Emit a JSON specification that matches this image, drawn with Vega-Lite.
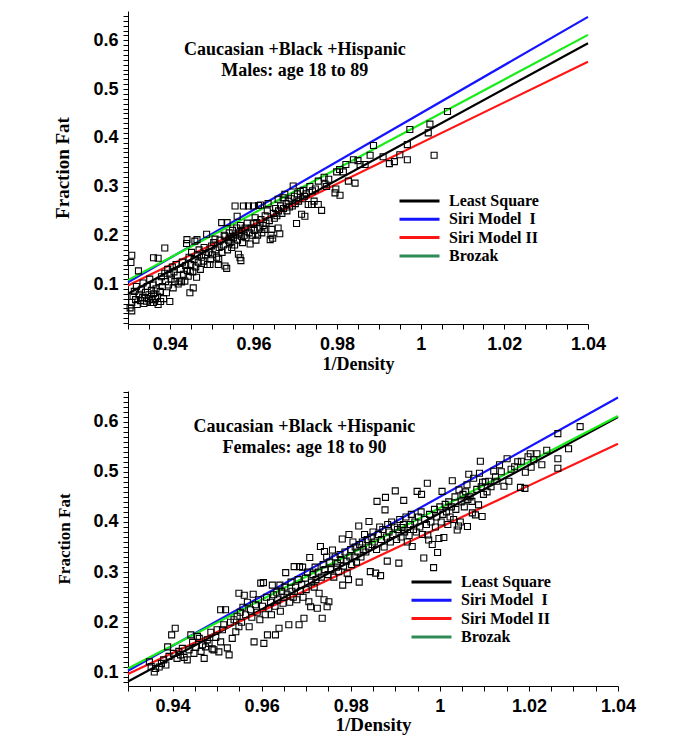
{
"$schema": "https://vega.github.io/schema/vega-lite/v6.json",
"padding": {"left": 53, "top": 6, "right": 5, "bottom": 5},
"spacing": 9,
"config": {"view": {"stroke": null},
  "axis": {"grid": false, "domainColor": "black", "tickColor": "black", "labelColor": "black", "titleColor": "black", "labelFont": "Liberation Sans", "labelFontWeight": "bold", "labelFontSize": 18, "titleFont": "Liberation Serif", "titleFontWeight": "bold", "labelOverlap": false, "labelFlush": false, "labelBound": false, "tickSize": 5, "tickCount": 500}},
"resolve": {"scale": {"color": "independent"}, "legend": {"color": "independent"}},
"datasets": {
"lines": [
{"g":"M","m":"Least Square","d":0.93,"f":0.080},{"g":"M","m":"Least Square","d":1.04,"f":0.594},
{"g":"M","m":"Siri Model \u00a0I","d":0.93,"f":0.1035},{"g":"M","m":"Siri Model \u00a0I","d":1.04,"f":0.648},
{"g":"M","m":"Siri Model II","d":0.93,"f":0.097},{"g":"M","m":"Siri Model II","d":1.04,"f":0.556},
{"g":"M","m":"Brozak","d":0.93,"f":0.108},{"g":"M","m":"Brozak","d":1.04,"f":0.611},
{"g":"F","m":"Least Square","d":0.93,"f":0.082},{"g":"F","m":"Least Square","d":1.04,"f":0.609},
{"g":"F","m":"Siri Model \u00a0I","d":0.93,"f":0.1035},{"g":"F","m":"Siri Model \u00a0I","d":1.04,"f":0.648},
{"g":"F","m":"Siri Model II","d":0.93,"f":0.097},{"g":"F","m":"Siri Model II","d":1.04,"f":0.556},
{"g":"F","m":"Brozak","d":0.93,"f":0.108},{"g":"F","m":"Brozak","d":1.04,"f":0.611}
],
"pts": [
{"g":"M","d":0.9305,"f":0.051},{"g":"M","d":0.9309,"f":0.045},{"g":"M","d":0.9309,"f":0.062},{"g":"M","d":0.9307,"f":0.144},{"g":"M","d":0.9309,"f":0.159},
{"g":"M","d":0.9312,"f":0.075},{"g":"M","d":0.9315,"f":0.085},{"g":"M","d":0.9318,"f":0.068},{"g":"M","d":0.932,"f":0.095},{"g":"M","d":0.9322,"f":0.058},
{"g":"M","d":0.9325,"f":0.127},{"g":"M","d":0.9327,"f":0.079},{"g":"M","d":0.933,"f":0.066},{"g":"M","d":0.9332,"f":0.088},{"g":"M","d":0.9335,"f":0.072},
{"g":"M","d":0.9336,"f":0.102},{"g":"M","d":0.9338,"f":0.06},{"g":"M","d":0.934,"f":0.072},{"g":"M","d":0.9342,"f":0.083},{"g":"M","d":0.9344,"f":0.065},
{"g":"M","d":0.9346,"f":0.095},{"g":"M","d":0.9348,"f":0.07},{"g":"M","d":0.935,"f":0.078},{"g":"M","d":0.9352,"f":0.11},{"g":"M","d":0.9354,"f":0.062},
{"g":"M","d":0.9356,"f":0.087},{"g":"M","d":0.9358,"f":0.068},{"g":"M","d":0.936,"f":0.098},{"g":"M","d":0.9361,"f":0.062},{"g":"M","d":0.9361,"f":0.08},
{"g":"M","d":0.9361,"f":0.154},{"g":"M","d":0.9366,"f":0.07},{"g":"M","d":0.9367,"f":0.09},{"g":"M","d":0.937,"f":0.075},{"g":"M","d":0.9372,"f":0.153},
{"g":"M","d":0.9372,"f":0.058},{"g":"M","d":0.9374,"f":0.105},{"g":"M","d":0.9378,"f":0.064},{"g":"M","d":0.9377,"f":0.085},{"g":"M","d":0.938,"f":0.115},
{"g":"M","d":0.9382,"f":0.095},{"g":"M","d":0.9385,"f":0.07},{"g":"M","d":0.9388,"f":0.174},{"g":"M","d":0.9388,"f":0.122},{"g":"M","d":0.939,"f":0.105},
{"g":"M","d":0.9392,"f":0.082},{"g":"M","d":0.9395,"f":0.13},{"g":"M","d":0.9397,"f":0.098},{"g":"M","d":0.94,"f":0.064},{"g":"M","d":0.94,"f":0.12},
{"g":"M","d":0.9403,"f":0.11},{"g":"M","d":0.9406,"f":0.135},{"g":"M","d":0.9408,"f":0.092},{"g":"M","d":0.941,"f":0.125},{"g":"M","d":0.9412,"f":0.105},
{"g":"M","d":0.9415,"f":0.14},{"g":"M","d":0.9418,"f":0.118},{"g":"M","d":0.942,"f":0.1},{"g":"M","d":0.9424,"f":0.106},{"g":"M","d":0.9425,"f":0.13},
{"g":"M","d":0.9428,"f":0.104},{"g":"M","d":0.943,"f":0.145},{"g":"M","d":0.9433,"f":0.12},{"g":"M","d":0.9436,"f":0.106},{"g":"M","d":0.9438,"f":0.138},
{"g":"M","d":0.944,"f":0.183},{"g":"M","d":0.9441,"f":0.191},{"g":"M","d":0.9442,"f":0.128},{"g":"M","d":0.9444,"f":0.116},{"g":"M","d":0.9446,"f":0.155},
{"g":"M","d":0.9449,"f":0.126},{"g":"M","d":0.9448,"f":0.082},{"g":"M","d":0.945,"f":0.14},{"g":"M","d":0.9452,"f":0.165},{"g":"M","d":0.9455,"f":0.125},
{"g":"M","d":0.9456,"f":0.092},{"g":"M","d":0.9458,"f":0.15},{"g":"M","d":0.946,"f":0.188},{"g":"M","d":0.9462,"f":0.135},{"g":"M","d":0.9464,"f":0.114},
{"g":"M","d":0.9465,"f":0.191},{"g":"M","d":0.9466,"f":0.16},{"g":"M","d":0.9468,"f":0.145},{"g":"M","d":0.947,"f":0.17},{"g":"M","d":0.9473,"f":0.13},
{"g":"M","d":0.9476,"f":0.155},{"g":"M","d":0.948,"f":0.147},{"g":"M","d":0.9482,"f":0.175},{"g":"M","d":0.9485,"f":0.16},{"g":"M","d":0.9488,"f":0.202},
{"g":"M","d":0.949,"f":0.14},{"g":"M","d":0.9493,"f":0.165},{"g":"M","d":0.9496,"f":0.14},{"g":"M","d":0.9498,"f":0.151},{"g":"M","d":0.95,"f":0.178},
{"g":"M","d":0.9502,"f":0.16},{"g":"M","d":0.9505,"f":0.185},{"g":"M","d":0.9508,"f":0.192},{"g":"M","d":0.951,"f":0.17},{"g":"M","d":0.9512,"f":0.155},
{"g":"M","d":0.9516,"f":0.14},{"g":"M","d":0.9517,"f":0.151},{"g":"M","d":0.9518,"f":0.175},{"g":"M","d":0.952,"f":0.19},{"g":"M","d":0.9524,"f":0.226},
{"g":"M","d":0.9525,"f":0.165},{"g":"M","d":0.9528,"f":0.18},{"g":"M","d":0.953,"f":0.2},{"g":"M","d":0.9532,"f":0.198},{"g":"M","d":0.9532,"f":0.137},
{"g":"M","d":0.9536,"f":0.132},{"g":"M","d":0.9537,"f":0.226},{"g":"M","d":0.9538,"f":0.17},{"g":"M","d":0.954,"f":0.19},{"g":"M","d":0.9542,"f":0.205},
{"g":"M","d":0.9544,"f":0.185},{"g":"M","d":0.9546,"f":0.195},{"g":"M","d":0.9548,"f":0.175},{"g":"M","d":0.955,"f":0.21},{"g":"M","d":0.9552,"f":0.195},
{"g":"M","d":0.9555,"f":0.18},{"g":"M","d":0.9556,"f":0.26},{"g":"M","d":0.9558,"f":0.2},{"g":"M","d":0.956,"f":0.215},{"g":"M","d":0.9561,"f":0.239},
{"g":"M","d":0.9562,"f":0.19},{"g":"M","d":0.9564,"f":0.161},{"g":"M","d":0.9566,"f":0.205},{"g":"M","d":0.9568,"f":0.154},{"g":"M","d":0.9569,"f":0.22},
{"g":"M","d":0.957,"f":0.148},{"g":"M","d":0.9571,"f":0.198},{"g":"M","d":0.9572,"f":0.21},{"g":"M","d":0.9574,"f":0.185},{"g":"M","d":0.9576,"f":0.26},
{"g":"M","d":0.9578,"f":0.2},{"g":"M","d":0.958,"f":0.215},{"g":"M","d":0.9585,"f":0.225},{"g":"M","d":0.9588,"f":0.26},{"g":"M","d":0.9582,"f":0.195},
{"g":"M","d":0.959,"f":0.205},{"g":"M","d":0.9592,"f":0.182},{"g":"M","d":0.9595,"f":0.215},{"g":"M","d":0.9598,"f":0.2},{"g":"M","d":0.96,"f":0.26},
{"g":"M","d":0.9601,"f":0.225},{"g":"M","d":0.9602,"f":0.21},{"g":"M","d":0.9604,"f":0.236},{"g":"M","d":0.9606,"f":0.19},{"g":"M","d":0.9608,"f":0.226},
{"g":"M","d":0.961,"f":0.2},{"g":"M","d":0.9612,"f":0.261},{"g":"M","d":0.9615,"f":0.215},{"g":"M","d":0.9617,"f":0.262},{"g":"M","d":0.9618,"f":0.232},
{"g":"M","d":0.962,"f":0.205},{"g":"M","d":0.9623,"f":0.22},{"g":"M","d":0.9626,"f":0.212},{"g":"M","d":0.9628,"f":0.24},{"g":"M","d":0.963,"f":0.225},
{"g":"M","d":0.9633,"f":0.25},{"g":"M","d":0.9635,"f":0.265},{"g":"M","d":0.9638,"f":0.23},{"g":"M","d":0.964,"f":0.191},{"g":"M","d":0.9642,"f":0.2},
{"g":"M","d":0.9644,"f":0.212},{"g":"M","d":0.9646,"f":0.194},{"g":"M","d":0.9648,"f":0.245},{"g":"M","d":0.965,"f":0.235},{"g":"M","d":0.9653,"f":0.255},
{"g":"M","d":0.9656,"f":0.24},{"g":"M","d":0.9659,"f":0.274},{"g":"M","d":0.9659,"f":0.215},{"g":"M","d":0.966,"f":0.25},{"g":"M","d":0.9663,"f":0.203},
{"g":"M","d":0.9665,"f":0.26},{"g":"M","d":0.9668,"f":0.245},{"g":"M","d":0.9671,"f":0.277},{"g":"M","d":0.9672,"f":0.255},{"g":"M","d":0.9675,"f":0.284},
{"g":"M","d":0.9678,"f":0.265},{"g":"M","d":0.968,"f":0.25},{"g":"M","d":0.9683,"f":0.27},{"g":"M","d":0.9686,"f":0.258},{"g":"M","d":0.969,"f":0.275},
{"g":"M","d":0.9693,"f":0.26},{"g":"M","d":0.9695,"f":0.301},{"g":"M","d":0.9698,"f":0.28},{"g":"M","d":0.97,"f":0.265},{"g":"M","d":0.9703,"f":0.224},
{"g":"M","d":0.9705,"f":0.285},{"g":"M","d":0.9708,"f":0.27},{"g":"M","d":0.9712,"f":0.29},{"g":"M","d":0.9715,"f":0.243},{"g":"M","d":0.9718,"f":0.275},
{"g":"M","d":0.9719,"f":0.292},{"g":"M","d":0.9722,"f":0.28},{"g":"M","d":0.9723,"f":0.239},{"g":"M","d":0.9726,"f":0.285},{"g":"M","d":0.9731,"f":0.263},
{"g":"M","d":0.9735,"f":0.3},{"g":"M","d":0.9739,"f":0.263},{"g":"M","d":0.9741,"f":0.291},{"g":"M","d":0.9745,"f":0.27},{"g":"M","d":0.9748,"f":0.295},
{"g":"M","d":0.9755,"f":0.263},{"g":"M","d":0.9755,"f":0.311},{"g":"M","d":0.9763,"f":0.251},{"g":"M","d":0.9769,"f":0.319},{"g":"M","d":0.9771,"f":0.305},
{"g":"M","d":0.9775,"f":0.3},{"g":"M","d":0.978,"f":0.315},{"g":"M","d":0.9795,"f":0.287},{"g":"M","d":0.9797,"f":0.295},{"g":"M","d":0.9799,"f":0.33},
{"g":"M","d":0.9806,"f":0.335},{"g":"M","d":0.9807,"f":0.282},{"g":"M","d":0.9815,"f":0.33},{"g":"M","d":0.9821,"f":0.345},{"g":"M","d":0.9827,"f":0.311},
{"g":"M","d":0.9839,"f":0.355},{"g":"M","d":0.9843,"f":0.307},{"g":"M","d":0.985,"f":0.353},{"g":"M","d":0.9855,"f":0.345},{"g":"M","d":0.9867,"f":0.345},
{"g":"M","d":0.9879,"f":0.364},{"g":"M","d":0.9887,"f":0.384},{"g":"M","d":0.991,"f":0.361},{"g":"M","d":0.9925,"f":0.347},{"g":"M","d":0.9937,"f":0.351},
{"g":"M","d":0.995,"f":0.365},{"g":"M","d":0.9968,"f":0.355},{"g":"M","d":0.9968,"f":0.386},{"g":"M","d":0.9974,"f":0.417},{"g":"M","d":1.0018,"f":0.41},
{"g":"M","d":1.0022,"f":0.428},{"g":"M","d":1.0032,"f":0.364},{"g":"M","d":1.0064,"f":0.454},

{"g":"F","d":0.9348,"f":0.121},{"g":"F","d":0.9352,"f":0.112},{"g":"F","d":0.9359,"f":0.101},{"g":"F","d":0.9362,"f":0.108},{"g":"F","d":0.937,"f":0.111},
{"g":"F","d":0.9375,"f":0.118},{"g":"F","d":0.938,"f":0.125},{"g":"F","d":0.9385,"f":0.115},{"g":"F","d":0.9389,"f":0.151},{"g":"F","d":0.9392,"f":0.132},
{"g":"F","d":0.9398,"f":0.175},{"g":"F","d":0.9402,"f":0.138},{"g":"F","d":0.9406,"f":0.188},{"g":"F","d":0.941,"f":0.128},{"g":"F","d":0.9414,"f":0.142},
{"g":"F","d":0.9418,"f":0.135},{"g":"F","d":0.9422,"f":0.148},{"g":"F","d":0.9426,"f":0.13},{"g":"F","d":0.9433,"f":0.125},{"g":"F","d":0.9437,"f":0.145},
{"g":"F","d":0.9441,"f":0.175},{"g":"F","d":0.9445,"f":0.16},{"g":"F","d":0.9448,"f":0.138},{"g":"F","d":0.9452,"f":0.15},{"g":"F","d":0.9456,"f":0.172},
{"g":"F","d":0.946,"f":0.168},{"g":"F","d":0.9464,"f":0.142},{"g":"F","d":0.9467,"f":0.155},{"g":"F","d":0.9471,"f":0.128},{"g":"F","d":0.9474,"f":0.151},
{"g":"F","d":0.9478,"f":0.165},{"g":"F","d":0.9482,"f":0.158},{"g":"F","d":0.9486,"f":0.18},{"g":"F","d":0.9489,"f":0.147},{"g":"F","d":0.9493,"f":0.145},
{"g":"F","d":0.9497,"f":0.17},{"g":"F","d":0.95,"f":0.185},{"g":"F","d":0.9504,"f":0.141},{"g":"F","d":0.9508,"f":0.161},{"g":"F","d":0.9508,"f":0.225},
{"g":"F","d":0.9512,"f":0.185},{"g":"F","d":0.9515,"f":0.195},{"g":"F","d":0.9519,"f":0.225},{"g":"F","d":0.9523,"f":0.149},{"g":"F","d":0.9527,"f":0.135},
{"g":"F","d":0.953,"f":0.2},{"g":"F","d":0.9534,"f":0.168},{"g":"F","d":0.9538,"f":0.205},{"g":"F","d":0.9542,"f":0.181},{"g":"F","d":0.9545,"f":0.212},
{"g":"F","d":0.9549,"f":0.191},{"g":"F","d":0.9549,"f":0.258},{"g":"F","d":0.9552,"f":0.22},{"g":"F","d":0.9555,"f":0.2},{"g":"F","d":0.9558,"f":0.23},
{"g":"F","d":0.9561,"f":0.254},{"g":"F","d":0.9564,"f":0.215},{"g":"F","d":0.9568,"f":0.24},{"g":"F","d":0.9572,"f":0.191},{"g":"F","d":0.9575,"f":0.225},
{"g":"F","d":0.9578,"f":0.21},{"g":"F","d":0.9581,"f":0.256},{"g":"F","d":0.9583,"f":0.161},{"g":"F","d":0.9586,"f":0.235},{"g":"F","d":0.959,"f":0.22},
{"g":"F","d":0.9593,"f":0.245},{"g":"F","d":0.9596,"f":0.205},{"g":"F","d":0.9598,"f":0.278},{"g":"F","d":0.9604,"f":0.279},{"g":"F","d":0.9602,"f":0.232},
{"g":"F","d":0.9605,"f":0.158},{"g":"F","d":0.9608,"f":0.215},{"g":"F","d":0.9611,"f":0.25},{"g":"F","d":0.9613,"f":0.175},{"g":"F","d":0.9616,"f":0.228},
{"g":"F","d":0.962,"f":0.24},{"g":"F","d":0.9622,"f":0.215},{"g":"F","d":0.9624,"f":0.274},{"g":"F","d":0.9627,"f":0.255},{"g":"F","d":0.963,"f":0.232},
{"g":"F","d":0.9631,"f":0.175},{"g":"F","d":0.9634,"f":0.26},{"g":"F","d":0.9636,"f":0.245},{"g":"F","d":0.9639,"f":0.188},{"g":"F","d":0.9641,"f":0.274},
{"g":"F","d":0.9642,"f":0.222},{"g":"F","d":0.9645,"f":0.262},{"g":"F","d":0.9648,"f":0.238},{"g":"F","d":0.965,"f":0.25},{"g":"F","d":0.9652,"f":0.27},
{"g":"F","d":0.9654,"f":0.299},{"g":"F","d":0.9657,"f":0.255},{"g":"F","d":0.9661,"f":0.195},{"g":"F","d":0.9663,"f":0.24},{"g":"F","d":0.9666,"f":0.28},
{"g":"F","d":0.9668,"f":0.262},{"g":"F","d":0.9671,"f":0.25},{"g":"F","d":0.9673,"f":0.311},{"g":"F","d":0.9676,"f":0.27},{"g":"F","d":0.9679,"f":0.245},
{"g":"F","d":0.9682,"f":0.285},{"g":"F","d":0.9684,"f":0.195},{"g":"F","d":0.9685,"f":0.311},{"g":"F","d":0.9687,"f":0.262},{"g":"F","d":0.969,"f":0.275},
{"g":"F","d":0.9692,"f":0.31},{"g":"F","d":0.9693,"f":0.25},{"g":"F","d":0.9695,"f":0.208},{"g":"F","d":0.9698,"f":0.288},{"g":"F","d":0.97,"f":0.265},
{"g":"F","d":0.9703,"f":0.3},{"g":"F","d":0.9706,"f":0.241},{"g":"F","d":0.9708,"f":0.329},{"g":"F","d":0.971,"f":0.231},{"g":"F","d":0.9712,"f":0.28},
{"g":"F","d":0.9715,"f":0.295},{"g":"F","d":0.9718,"f":0.27},{"g":"F","d":0.972,"f":0.31},{"g":"F","d":0.9722,"f":0.285},{"g":"F","d":0.9725,"f":0.228},
{"g":"F","d":0.9727,"f":0.3},{"g":"F","d":0.9729,"f":0.258},{"g":"F","d":0.9732,"f":0.351},{"g":"F","d":0.9734,"f":0.29},{"g":"F","d":0.9736,"f":0.208},
{"g":"F","d":0.9738,"f":0.315},{"g":"F","d":0.974,"f":0.245},{"g":"F","d":0.9741,"f":0.341},{"g":"F","d":0.9742,"f":0.305},{"g":"F","d":0.9746,"f":0.33},
{"g":"F","d":0.9747,"f":0.231},{"g":"F","d":0.9749,"f":0.295},{"g":"F","d":0.9751,"f":0.241},{"g":"F","d":0.9753,"f":0.32},{"g":"F","d":0.9756,"f":0.305},
{"g":"F","d":0.9759,"f":0.344},{"g":"F","d":0.9762,"f":0.29},{"g":"F","d":0.9765,"f":0.33},{"g":"F","d":0.9768,"f":0.31},{"g":"F","d":0.977,"f":0.318},
{"g":"F","d":0.9773,"f":0.301},{"g":"F","d":0.9776,"f":0.335},{"g":"F","d":0.9778,"f":0.325},{"g":"F","d":0.9781,"f":0.366},{"g":"F","d":0.9782,"f":0.274},
{"g":"F","d":0.9784,"f":0.312},{"g":"F","d":0.9787,"f":0.34},{"g":"F","d":0.979,"f":0.322},{"g":"F","d":0.9792,"f":0.298},{"g":"F","d":0.9795,"f":0.285},
{"g":"F","d":0.9796,"f":0.375},{"g":"F","d":0.9798,"f":0.33},{"g":"F","d":0.98,"f":0.345},{"g":"F","d":0.9802,"f":0.315},{"g":"F","d":0.9805,"f":0.36},
{"g":"F","d":0.9808,"f":0.33},{"g":"F","d":0.981,"f":0.35},{"g":"F","d":0.9813,"f":0.32},{"g":"F","d":0.9816,"f":0.34},{"g":"F","d":0.9818,"f":0.392},
{"g":"F","d":0.9819,"f":0.28},{"g":"F","d":0.982,"f":0.355},{"g":"F","d":0.9823,"f":0.33},{"g":"F","d":0.9826,"f":0.36},{"g":"F","d":0.9828,"f":0.345},
{"g":"F","d":0.9831,"f":0.375},{"g":"F","d":0.9834,"f":0.34},{"g":"F","d":0.9837,"f":0.365},{"g":"F","d":0.984,"f":0.35},{"g":"F","d":0.9841,"f":0.401},
{"g":"F","d":0.9844,"f":0.301},{"g":"F","d":0.9846,"f":0.37},{"g":"F","d":0.9848,"f":0.355},{"g":"F","d":0.985,"f":0.38},{"g":"F","d":0.9853,"f":0.36},
{"g":"F","d":0.9856,"f":0.298},{"g":"F","d":0.9858,"f":0.345},{"g":"F","d":0.9859,"f":0.441},{"g":"F","d":0.9862,"f":0.375},{"g":"F","d":0.9865,"f":0.39},
{"g":"F","d":0.9867,"f":0.293},{"g":"F","d":0.9869,"f":0.365},{"g":"F","d":0.9872,"f":0.385},{"g":"F","d":0.9875,"f":0.35},{"g":"F","d":0.9877,"f":0.424},
{"g":"F","d":0.9878,"f":0.449},{"g":"F","d":0.988,"f":0.37},{"g":"F","d":0.9882,"f":0.322},{"g":"F","d":0.9883,"f":0.395},{"g":"F","d":0.9886,"f":0.38},
{"g":"F","d":0.9889,"f":0.36},{"g":"F","d":0.9892,"f":0.4},{"g":"F","d":0.9895,"f":0.375},{"g":"F","d":0.9898,"f":0.39},{"g":"F","d":0.99,"f":0.462},
{"g":"F","d":0.9903,"f":0.365},{"g":"F","d":0.9905,"f":0.385},{"g":"F","d":0.9908,"f":0.318},{"g":"F","d":0.991,"f":0.405},{"g":"F","d":0.9913,"f":0.37},
{"g":"F","d":0.9915,"f":0.389},{"g":"F","d":0.9918,"f":0.395},{"g":"F","d":0.9919,"f":0.443},{"g":"F","d":0.9921,"f":0.38},{"g":"F","d":0.9924,"f":0.41},
{"g":"F","d":0.9927,"f":0.36},{"g":"F","d":0.9931,"f":0.373},{"g":"F","d":0.9934,"f":0.395},{"g":"F","d":0.9936,"f":0.415},{"g":"F","d":0.9938,"f":0.351},
{"g":"F","d":0.9941,"f":0.385},{"g":"F","d":0.9944,"f":0.4},{"g":"F","d":0.9947,"f":0.38},{"g":"F","d":0.9949,"f":0.461},{"g":"F","d":0.9952,"f":0.41},
{"g":"F","d":0.9955,"f":0.39},{"g":"F","d":0.9958,"f":0.42},{"g":"F","d":0.9959,"f":0.455},{"g":"F","d":0.9961,"f":0.375},{"g":"F","d":0.9964,"f":0.328},
{"g":"F","d":0.9966,"f":0.405},{"g":"F","d":0.997,"f":0.395},{"g":"F","d":0.9972,"f":0.477},{"g":"F","d":0.9973,"f":0.374},{"g":"F","d":0.9975,"f":0.364},
{"g":"F","d":0.9977,"f":0.415},{"g":"F","d":0.998,"f":0.4},{"g":"F","d":0.9983,"f":0.355},{"g":"F","d":0.9986,"f":0.309},{"g":"F","d":0.9988,"f":0.425},
{"g":"F","d":0.999,"f":0.39},{"g":"F","d":0.9993,"f":0.41},{"g":"F","d":0.9995,"f":0.339},{"g":"F","d":0.9998,"f":0.367},{"g":"F","d":1.0,"f":0.43},
{"g":"F","d":1.0003,"f":0.4},{"g":"F","d":1.0005,"f":0.461},{"g":"F","d":1.0007,"f":0.415},{"g":"F","d":1.0009,"f":0.369},{"g":"F","d":1.0012,"f":0.435},
{"g":"F","d":1.0015,"f":0.42},{"g":"F","d":1.0018,"f":0.395},{"g":"F","d":1.002,"f":0.44},{"g":"F","d":1.0023,"f":0.41},{"g":"F","d":1.0026,"f":0.43},
{"g":"F","d":1.0028,"f":0.482},{"g":"F","d":1.0031,"f":0.405},{"g":"F","d":1.0034,"f":0.45},{"g":"F","d":1.0036,"f":0.425},{"g":"F","d":1.0039,"f":0.384},
{"g":"F","d":1.0042,"f":0.392},{"g":"F","d":1.0043,"f":0.464},{"g":"F","d":1.0046,"f":0.4},{"g":"F","d":1.0048,"f":0.44},{"g":"F","d":1.0052,"f":0.455},
{"g":"F","d":1.0055,"f":0.43},{"g":"F","d":1.0058,"f":0.46},{"g":"F","d":1.0061,"f":0.474},{"g":"F","d":1.0062,"f":0.391},{"g":"F","d":1.0063,"f":0.445},
{"g":"F","d":1.0065,"f":0.495},{"g":"F","d":1.0068,"f":0.45},{"g":"F","d":1.0072,"f":0.441},{"g":"F","d":1.0073,"f":0.418},{"g":"F","d":1.0076,"f":0.487},
{"g":"F","d":1.008,"f":0.414},{"g":"F","d":1.0083,"f":0.465},{"g":"F","d":1.0087,"f":0.434},{"g":"F","d":1.0089,"f":0.497},{"g":"F","d":1.0091,"f":0.521},
{"g":"F","d":1.0093,"f":0.47},{"g":"F","d":1.0095,"f":0.411},{"g":"F","d":1.0096,"f":0.479},{"g":"F","d":1.0098,"f":0.455},{"g":"F","d":1.0102,"f":0.48},
{"g":"F","d":1.0106,"f":0.46},{"g":"F","d":1.011,"f":0.481},{"g":"F","d":1.0115,"f":0.47},{"g":"F","d":1.0121,"f":0.501},{"g":"F","d":1.0125,"f":0.49},
{"g":"F","d":1.0128,"f":0.481},{"g":"F","d":1.0134,"f":0.514},{"g":"F","d":1.0138,"f":0.5},{"g":"F","d":1.0144,"f":0.471},{"g":"F","d":1.0151,"f":0.526},
{"g":"F","d":1.0155,"f":0.481},{"g":"F","d":1.016,"f":0.505},{"g":"F","d":1.0168,"f":0.51},{"g":"F","d":1.0175,"f":0.52},{"g":"F","d":1.0181,"f":0.469},
{"g":"F","d":1.0183,"f":0.521},{"g":"F","d":1.0191,"f":0.467},{"g":"F","d":1.0192,"f":0.499},{"g":"F","d":1.0198,"f":0.53},{"g":"F","d":1.0203,"f":0.536},
{"g":"F","d":1.0205,"f":0.509},{"g":"F","d":1.0211,"f":0.524},{"g":"F","d":1.0218,"f":0.536},{"g":"F","d":1.0229,"f":0.514},{"g":"F","d":1.024,"f":0.543},
{"g":"F","d":1.0265,"f":0.576},{"g":"F","d":1.0265,"f":0.526},{"g":"F","d":1.0265,"f":0.507},{"g":"F","d":1.0289,"f":0.546},{"g":"F","d":1.0315,"f":0.59}
]
},
"vconcat": [
{
 "width": 460, "height": 313,
 "resolve": {"scale": {"color": "independent"}},
 "layer": [
  {"data": {"name": "lines"}, "transform": [{"filter": "datum.g == 'M'"}],
   "mark": {"type": "line", "strokeWidth": 2.2},
   "encoding": {
    "x": {"field": "d", "type": "quantitative", "scale": {"domain": [0.93, 1.04], "nice": false, "zero": false},
      "axis": {"title": "1/Density", "titleFontSize": 18, "titlePadding": 2, "labelPadding": 6, "format": "~g", "labelOverlap": false, "tickCount": 500,
        "values": [0.93,0.935,0.94,0.945,0.95,0.955,0.96,0.965,0.97,0.975,0.98,0.985,0.99,0.995,1,1.005,1.01,1.015,1.02,1.025,1.03,1.035,1.04],
        "labelExpr": "abs(datum.value*50 - round(datum.value*50)) < 0.001 ? datum.label : ''",
        "encode": {"ticks": {"update": {"y2": {"signal": "abs(datum.value*50 - round(datum.value*50)) < 0.001 ? 6 : 3"}}}}}},
    "y": {"field": "f", "type": "quantitative", "scale": {"domain": [0.018, 0.66], "nice": false, "zero": false},
      "axis": {"title": "Fraction Fat", "titleFontSize": 19, "titlePadding": 20, "labelPadding": 5, "format": "~g", "labelOverlap": false, "tickCount": 500,
        "values": [0.02,0.03,0.04,0.05,0.06,0.07,0.08,0.09,0.1,0.11,0.12,0.13,0.14,0.15,0.16,0.17,0.18,0.19,0.2,0.21,0.22,0.23,0.24,0.25,0.26,0.27,0.28,0.29,0.3,0.31,0.32,0.33,0.34,0.35,0.36,0.37,0.38,0.39,0.4,0.41,0.42,0.43,0.44,0.45,0.46,0.47,0.48,0.49,0.5,0.51,0.52,0.53,0.54,0.55,0.56,0.57,0.58,0.59,0.6,0.61,0.62,0.63,0.64,0.65],
        "labelExpr": "abs(datum.value*10 - round(datum.value*10)) < 0.001 ? datum.label : ''",
        "encode": {"ticks": {"update": {"x2": {"signal": "abs(datum.value*10 - round(datum.value*10)) < 0.001 ? -6 : 3"}}}}}},
    "color": {"field": "m", "type": "nominal",
      "scale": {"domain": ["Least Square", "Siri Model \u00a0I", "Siri Model II", "Brozak"], "range": ["#000000", "#1414ff", "#ff1414", "#18ec18"]},
      "legend": null}
   }},
  {"data": {"name": "lines"}, "transform": [{"filter": "datum.g == 'none'"}],
   "mark": {"type": "line", "strokeWidth": 2.2},
   "encoding": {
    "x": {"field": "d", "type": "quantitative"},
    "y": {"field": "f", "type": "quantitative"},
    "color": {"field": "m", "type": "nominal",
      "scale": {"domain": ["Least Square", "Siri Model \u00a0I", "Siri Model II", "Brozak"], "range": ["#000000", "#1414ff", "#ff1414", "#2e8b57"]},
      "legend": {"orient": "none", "legendX": 270, "legendY": 181, "title": null, "padding": 0, "symbolType": "stroke", "symbolStrokeWidth": 3, "symbolSize": 1600, "clipHeight": 18, "rowPadding": 0.3, "labelFont": "Liberation Serif", "labelFontWeight": "bold", "labelFontSize": 16, "labelColor": "black", "labelOffset": 8}}
   }},
  {"data": {"name": "pts"}, "transform": [{"filter": "datum.g == 'M'"}],
   "mark": {"type": "point", "shape": "square", "filled": false, "size": 36, "stroke": "black", "strokeWidth": 1.1, "opacity": 1},
   "encoding": {"x": {"field": "d", "type": "quantitative"}, "y": {"field": "f", "type": "quantitative"}}},
  {"data": {"values": [{}]},
   "mark": {"type": "text", "font": "Liberation Serif", "fontWeight": "bold", "fontSize": 18, "lineHeight": 21, "align": "center", "baseline": "middle", "color": "black"},
   "encoding": {"x": {"datum": 0.9699, "type": "quantitative"}, "y": {"datum": 0.58, "type": "quantitative"}, "text": {"value": ["Caucasian +Black +Hispanic", "Males: age 18 to 89"]}}}
 ]
},
{
 "width": 490, "height": 295,
 "resolve": {"scale": {"color": "independent"}},
 "layer": [
  {"data": {"name": "lines"}, "transform": [{"filter": "datum.g == 'F'"}],
   "mark": {"type": "line", "strokeWidth": 2.2},
   "encoding": {
    "x": {"field": "d", "type": "quantitative", "scale": {"domain": [0.93, 1.04], "nice": false, "zero": false},
      "axis": {"title": "1/Density", "titleFontSize": 19, "titlePadding": 0, "labelPadding": 6, "format": "~g", "labelOverlap": false, "tickCount": 500,
        "values": [0.93,0.935,0.94,0.945,0.95,0.955,0.96,0.965,0.97,0.975,0.98,0.985,0.99,0.995,1,1.005,1.01,1.015,1.02,1.025,1.03,1.035,1.04],
        "labelExpr": "abs(datum.value*50 - round(datum.value*50)) < 0.001 ? datum.label : ''",
        "encode": {"ticks": {"update": {"y2": {"signal": "abs(datum.value*50 - round(datum.value*50)) < 0.001 ? 6 : 3"}}}}}},
    "y": {"field": "f", "type": "quantitative", "scale": {"domain": [0.073, 0.661], "nice": false, "zero": false},
      "axis": {"title": "Fraction Fat", "titleFontSize": 17, "titlePadding": 19, "labelPadding": 5, "format": "~g", "labelOverlap": false, "tickCount": 500,
        "values": [0.08,0.09,0.1,0.11,0.12,0.13,0.14,0.15,0.16,0.17,0.18,0.19,0.2,0.21,0.22,0.23,0.24,0.25,0.26,0.27,0.28,0.29,0.3,0.31,0.32,0.33,0.34,0.35,0.36,0.37,0.38,0.39,0.4,0.41,0.42,0.43,0.44,0.45,0.46,0.47,0.48,0.49,0.5,0.51,0.52,0.53,0.54,0.55,0.56,0.57,0.58,0.59,0.6,0.61,0.62,0.63,0.64,0.65,0.66],
        "labelExpr": "abs(datum.value*10 - round(datum.value*10)) < 0.001 ? datum.label : ''",
        "encode": {"ticks": {"update": {"x2": {"signal": "abs(datum.value*10 - round(datum.value*10)) < 0.001 ? -6 : 3"}}}}}},
    "color": {"field": "m", "type": "nominal",
      "scale": {"domain": ["Least Square", "Siri Model \u00a0I", "Siri Model II", "Brozak"], "range": ["#000000", "#1414ff", "#ff1414", "#18ec18"]},
      "legend": null}
   }},
  {"data": {"name": "lines"}, "transform": [{"filter": "datum.g == 'none'"}],
   "mark": {"type": "line", "strokeWidth": 2.2},
   "encoding": {
    "x": {"field": "d", "type": "quantitative"},
    "y": {"field": "f", "type": "quantitative"},
    "color": {"field": "m", "type": "nominal",
      "scale": {"domain": ["Least Square", "Siri Model \u00a0I", "Siri Model II", "Brozak"], "range": ["#000000", "#1414ff", "#ff1414", "#2e8b57"]},
      "legend": {"orient": "none", "legendX": 282, "legendY": 182, "title": null, "padding": 0, "symbolType": "stroke", "symbolStrokeWidth": 3, "symbolSize": 1600, "clipHeight": 18, "rowPadding": 0.3, "labelFont": "Liberation Serif", "labelFontWeight": "bold", "labelFontSize": 16, "labelColor": "black", "labelOffset": 8}}
   }},
  {"data": {"name": "pts"}, "transform": [{"filter": "datum.g == 'F'"}],
   "mark": {"type": "point", "shape": "square", "filled": false, "size": 36, "stroke": "black", "strokeWidth": 1.1, "opacity": 1},
   "encoding": {"x": {"field": "d", "type": "quantitative"}, "y": {"field": "f", "type": "quantitative"}}},
  {"data": {"values": [{}]},
   "mark": {"type": "text", "font": "Liberation Serif", "fontWeight": "bold", "fontSize": 18, "lineHeight": 21, "align": "center", "baseline": "middle", "color": "black"},
   "encoding": {"x": {"datum": 0.9696, "type": "quantitative"}, "y": {"datum": 0.59, "type": "quantitative"}, "text": {"value": ["Caucasian +Black +Hispanic", "Females: age 18 to 90"]}}}
 ]
}
]
}
